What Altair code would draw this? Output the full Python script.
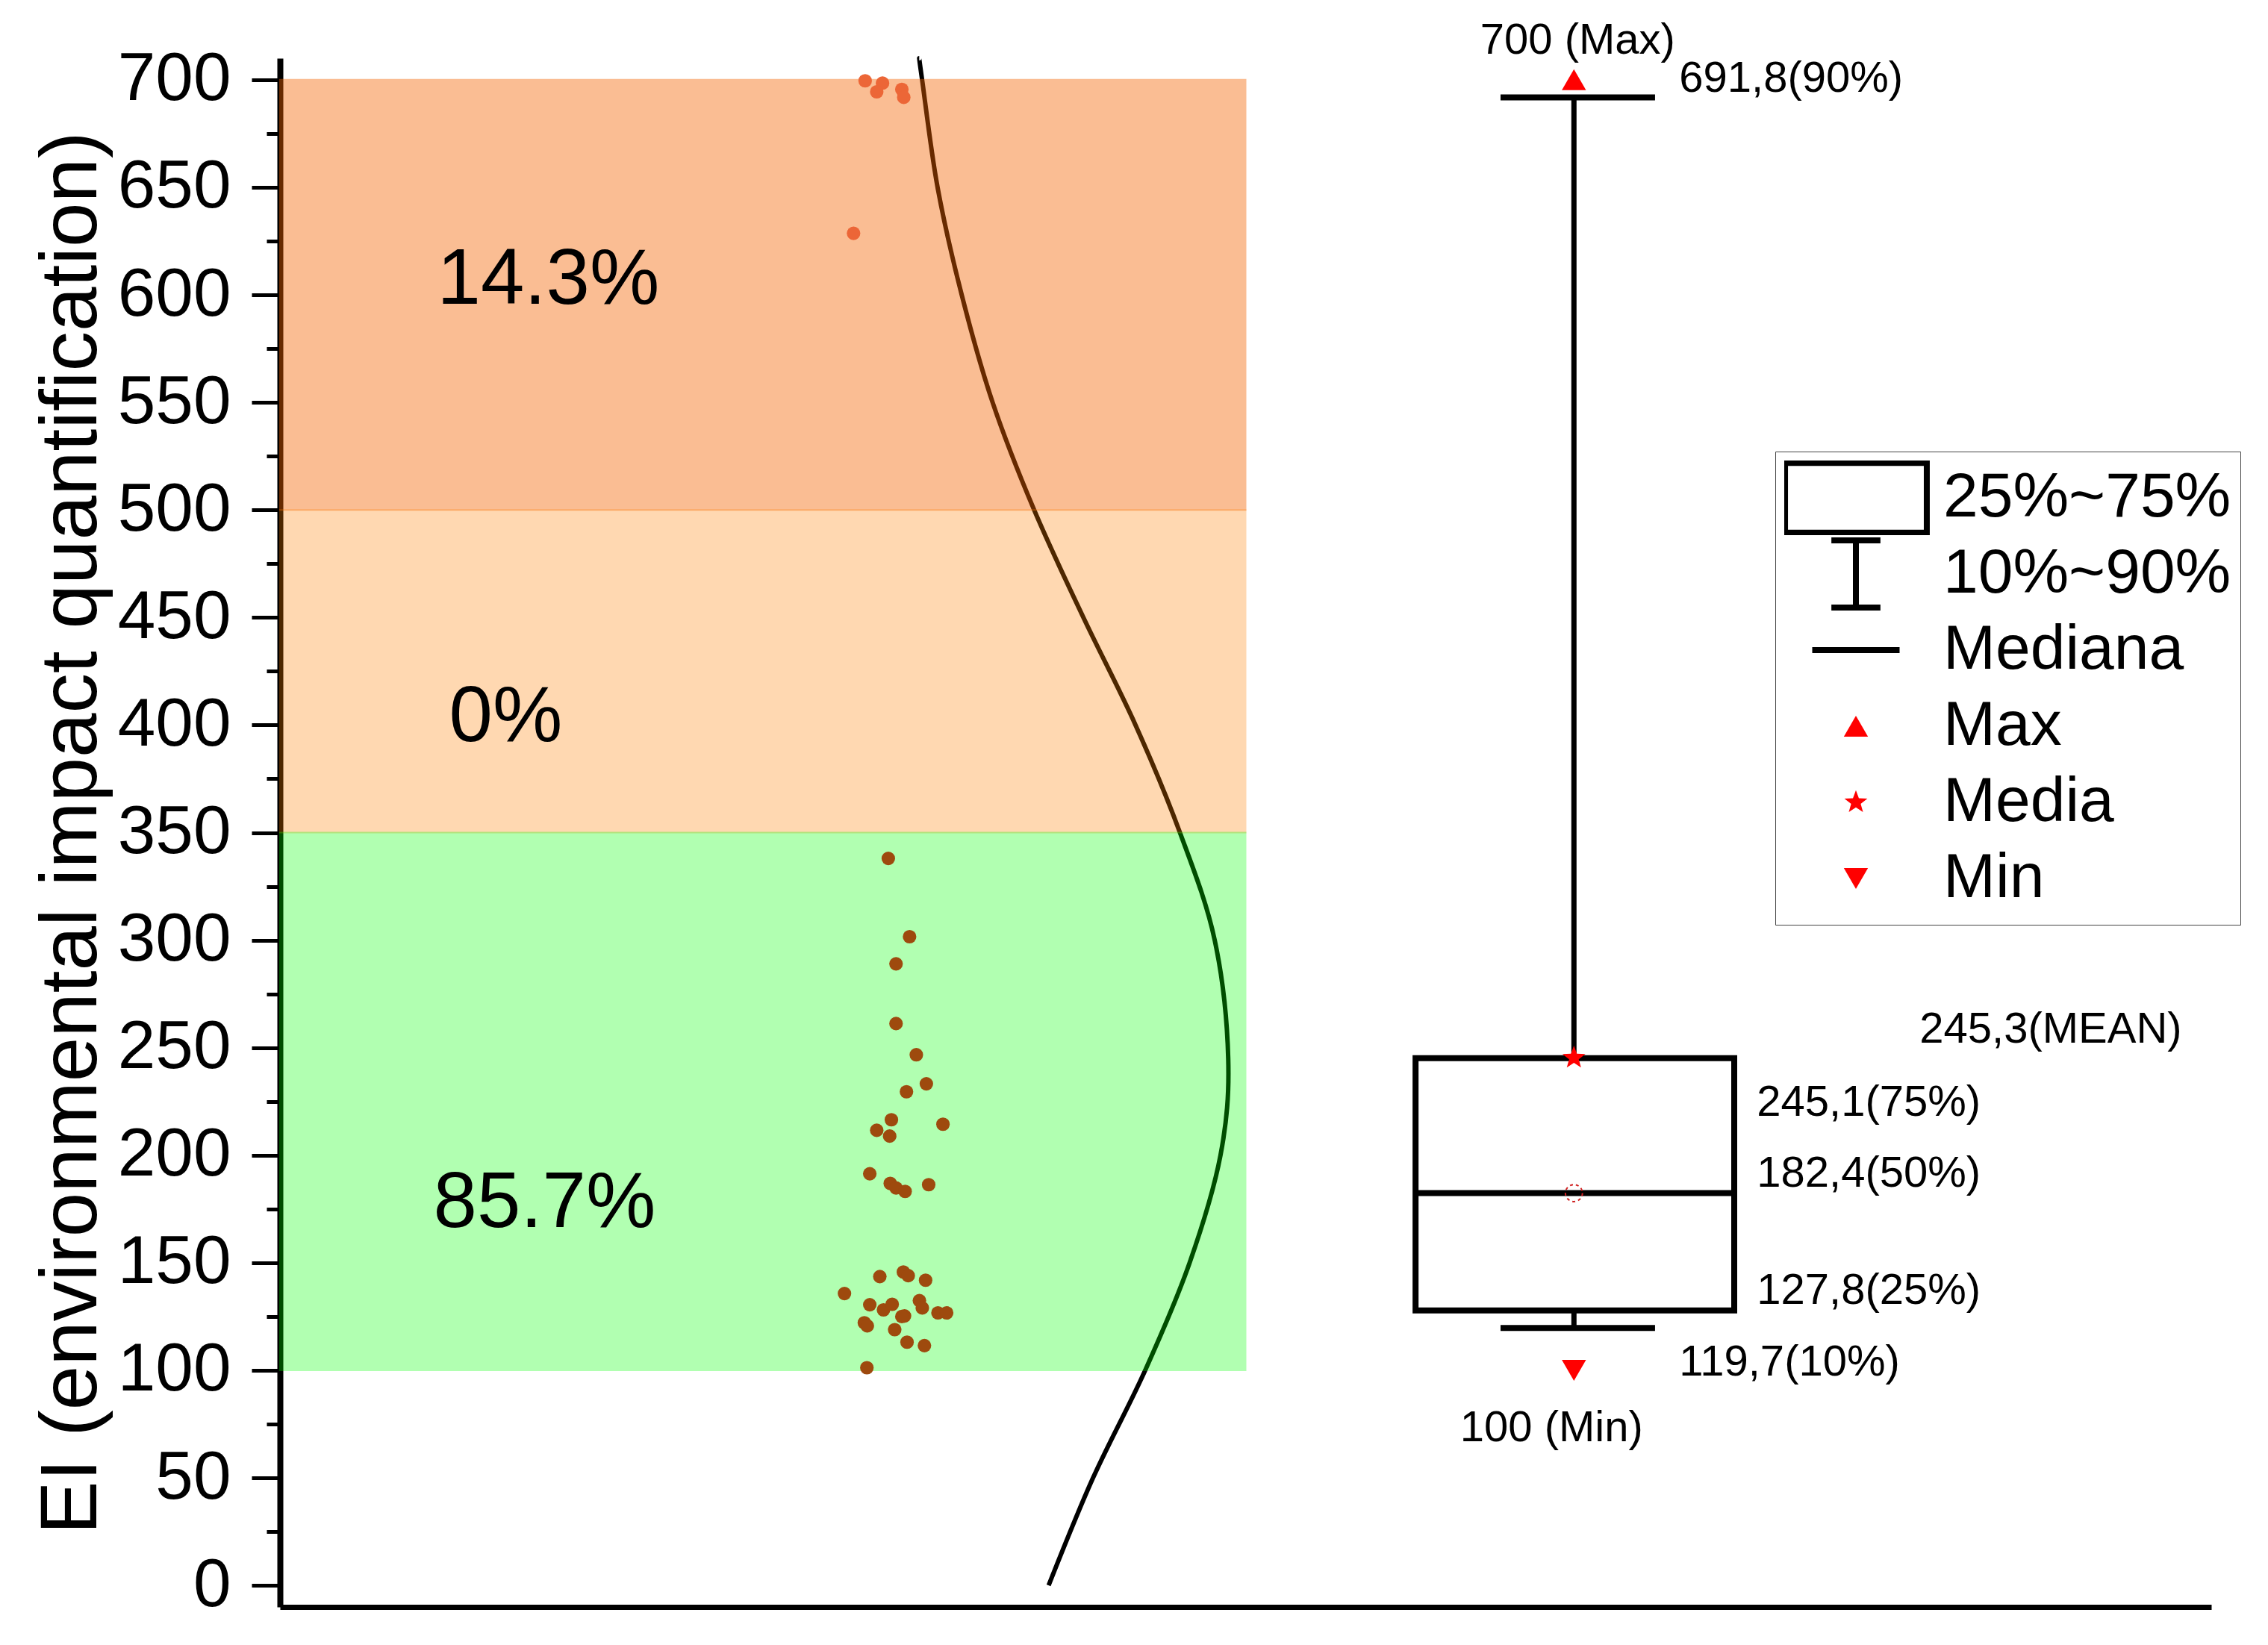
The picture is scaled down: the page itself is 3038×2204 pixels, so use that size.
import altair as alt
import pandas as pd

# ---------------- data ----------------
# individual observations: value and horizontal jitter position
hi_values = [699.5, 698.4, 694.4, 695.5, 691.8, 628.6]
hi_jitter = [30.3, 31.2, 30.9, 32.2, 32.3, 29.7]

lo_values = [338.0, 301.6, 289.0, 261.2, 246.7, 233.2, 229.5, 216.5, 211.6, 208.9,
             214.4, 191.4, 186.9, 184.8, 183.2, 186.3,
             143.6, 145.7, 144.0, 141.9, 135.7, 130.5, 128.1, 130.7, 132.4, 129.0,
             125.3, 122.1, 120.7, 118.9, 126.7, 126.7, 113.1, 111.5, 101.2, 125.0]
lo_jitter = [31.5, 32.6, 31.9, 31.9, 32.95, 33.47, 32.44, 31.66, 30.9, 31.57,
             34.33, 30.54, 31.6, 31.9, 32.37, 33.59,
             31.06, 32.28, 32.53, 33.43, 29.23, 30.54, 31.25, 31.70, 33.11, 33.26,
             32.34, 30.26, 30.41, 31.83, 34.07, 34.52, 32.47, 33.37, 30.39, 32.2]

# distribution curve (EI value -> horizontal position)
curve_values = [0, 50, 100, 150, 200, 245, 300, 350, 400, 450, 500, 550, 600, 650, 700, 710]
curve_density = [39.8, 42.1, 44.8, 47.1, 48.7, 49.1, 48.4, 46.6, 44.3, 41.6,
                 39.05, 36.9, 35.3, 34.05, 33.25, 33.1]

# classification bands
band_lo = [500, 350, 100]
band_hi = [700, 500, 350]
band_labels = ["14.3%", "0%", "85.7%"]

# box-plot statistics
stat_names = ["min", "q10", "q25", "q50", "q75", "mean", "q90", "max"]
stat_values = [100, 119.7, 127.8, 182.4, 245.1, 245.3, 691.8, 700]

annot_texts = ["700 (Max)", "691,8(90%)", "245,3(MEAN)", "245,1(75%)",
               "182,4(50%)", "127,8(25%)", "119,7(10%)", "100 (Min)"]
annot_values = [700, 691.8, 245.3, 245.1, 182.4, 127.8, 119.7, 100]

legend_items = ["25%~75%", "10%~90%", "Mediana", "Max", "Media", "Min"]

# ---------------- styles ----------------
FONT = "Liberation Sans"
BAND_COLORS = ["#f56400", "#ff8000", "#00ff00"]
BAND_OPACITY = [0.42, 0.30, 0.30]
BAND_LABEL_DX = [36, -21, 31]
BAND_LABEL_DY = [-20, 62, 136]
BAND_X0, BAND_X1, BAND_LABEL_X = 0, 50, 12.5

BOX_C, BOX_L, BOX_R = 67.0, 58.8, 75.3
CAP_L, CAP_R = 63.2, 71.2

ANNOT_ALIGN = ["center", "left", "left", "left", "left", "left", "left", "center"]
ANNOT_DX = [5, 141, 463, 245, 245, 245, 141, -30]
ANNOT_DY = [-52, -24, -37, 60, -26, -26, 47, 78]

SHAPES = [
    "M-2.11,-1.04H2.11V1.04H-2.11Z",
    "M-0.73,-1H0.73M0,-1V1M-0.73,1H0.73",
    "M-1.3,0H1.3",
    "M0,-0.31L0.36,0.31L-0.36,0.31Z",
    "M0,-0.36L0.0882,-0.1214L0.3424,-0.1112L0.1427,0.0464L0.2116,0.2912L0,0.15"
    "L-0.2116,0.2912L-0.1427,0.0464L-0.3424,-0.1112L-0.0882,-0.1214Z",
    "M0,0.31L0.36,-0.31L-0.36,-0.31Z",
]
FILLS = ["transparent", "transparent", "transparent", "#ff0000", "#ff0000", "#ff0000"]
STROKES = ["black", "black", "black", "transparent", "transparent", "transparent"]

X_SCALE = alt.Scale(domain=[0, 100], nice=False, zero=False)
Y_SCALE = alt.Scale(domain=[-10, 710], nice=False, zero=False)

x_axis = alt.Axis(title=None, labels=False, ticks=False, grid=False,
                  domainWidth=7, domainColor="black")
y_axis = alt.Axis(
    title="EI (environmental impact quantification)",
    values=list(range(0, 701, 25)),
    labelExpr="datum.value % 50 === 0 ? datum.label : ''",
    tickSize={"condition": {"test": "datum.value % 50 === 0", "value": 38}, "value": 18},
    tickWidth=5, tickColor="black", domainWidth=8, domainColor="black", grid=False,
    labelFont=FONT, labelFontSize=91, labelColor="black", labelPadding=28,
    titleFont=FONT, titleFontSize=107, titleFontWeight="normal", titleColor="black",
    titlePadding=25,
)

# ---------------- layers ----------------
curve_df = pd.DataFrame({"v": curve_values, "d": curve_density,
                         "i": list(range(len(curve_values)))})
curve = alt.Chart(curve_df).mark_line(color="black", strokeWidth=6,
                                      interpolate="cardinal").encode(
    x=alt.X("d:Q", scale=X_SCALE, axis=x_axis),
    y=alt.Y("v:Q", scale=Y_SCALE, axis=y_axis),
    order=alt.Order("i:Q"),
)

layers = [curve]

for i in range(len(band_lo)):
    bdf = pd.DataFrame({"lo": [band_lo[i]], "hi": [band_hi[i]], "label": [band_labels[i]]})
    layers.append(
        alt.Chart(bdf).mark_rect(color=BAND_COLORS[i], opacity=BAND_OPACITY[i],
                                 stroke=BAND_COLORS[i], strokeWidth=2).encode(
            x=alt.datum(BAND_X0), x2=alt.datum(BAND_X1), y="lo:Q", y2="hi:Q"))

hi_df = pd.DataFrame({"v": hi_values, "j": hi_jitter})
lo_df = pd.DataFrame({"v": lo_values, "j": lo_jitter})
layers.append(alt.Chart(hi_df).mark_circle(size=330, opacity=1, color="#ec6637").encode(
    x="j:Q", y="v:Q"))
layers.append(alt.Chart(lo_df).mark_circle(size=330, opacity=1, color="#9e4a0e").encode(
    x="j:Q", y="v:Q"))

for i in range(len(band_lo)):
    bdf = pd.DataFrame({"lo": [band_lo[i]], "hi": [band_hi[i]], "label": [band_labels[i]]})
    layers.append(
        alt.Chart(bdf).transform_calculate(mid="(datum.lo + datum.hi) / 2").mark_text(
            font=FONT, fontSize=105, color="black", align="center", baseline="middle",
            dx=BAND_LABEL_DX[i], dy=BAND_LABEL_DY[i]).encode(
            x=alt.datum(BAND_LABEL_X), y="mid:Q", text="label:N"))

stats = pd.DataFrame([dict(zip(stat_names, stat_values))])
base = alt.Chart(stats)
layers += [
    base.mark_rule(color="black", strokeWidth=7).encode(
        x=alt.datum(BOX_C), y="q75:Q", y2="q90:Q"),
    base.mark_rule(color="black", strokeWidth=7).encode(
        x=alt.datum(BOX_C), y="q10:Q", y2="q25:Q"),
    base.mark_rule(color="black", strokeWidth=8).encode(
        x=alt.datum(CAP_L), x2=alt.datum(CAP_R), y="q90:Q"),
    base.mark_rule(color="black", strokeWidth=8).encode(
        x=alt.datum(CAP_L), x2=alt.datum(CAP_R), y="q10:Q"),
    base.mark_rect(fillOpacity=0, stroke="black", strokeWidth=8).encode(
        x=alt.datum(BOX_L), x2=alt.datum(BOX_R), y="q25:Q", y2="q75:Q"),
    base.mark_rule(color="black", strokeWidth=8).encode(
        x=alt.datum(BOX_L), x2=alt.datum(BOX_R), y="q50:Q"),
    base.mark_point(shape="circle", size=520, stroke="#d02020", strokeWidth=2,
                    strokeDash=[4, 4], filled=False, opacity=1).encode(
        x=alt.datum(BOX_C), y="q50:Q"),
]

for i in range(len(annot_texts)):
    adf = pd.DataFrame({"v": [annot_values[i]], "t": [annot_texts[i]]})
    layers.append(alt.Chart(adf).mark_text(
        font=FONT, fontSize=58, color="black", align=ANNOT_ALIGN[i], baseline="middle",
        dx=ANNOT_DX[i], dy=ANNOT_DY[i]).encode(
        x=alt.datum(BOX_C), y="v:Q", text="t:N"))

smap = dict(zip(stat_names, stat_values))
marker_df = pd.DataFrame({"cat": legend_items,
                          "v": [None, None, None, smap["max"], smap["mean"], smap["min"]]})
LEG = alt.Legend(title=None, orient="none", legendX=2003, legendY=527, padding=12,
                 strokeColor="#444444", labelFont=FONT, labelFontSize=84,
                 labelColor="black", symbolSize=8100, symbolStrokeWidth=8,
                 symbolOffset=47, labelOffset=68, rowPadding=2, clipHeight=100,
                 labelLimit=2000)
markers = alt.Chart(marker_df).mark_point(size=8100, strokeWidth=8, opacity=1).encode(
    x=alt.datum(BOX_C),
    y=alt.Y("v:Q"),
    shape=alt.Shape("cat:N", scale=alt.Scale(domain=legend_items, range=SHAPES), legend=LEG),
    fill=alt.Fill("cat:N", scale=alt.Scale(domain=legend_items, range=FILLS), legend=LEG),
    stroke=alt.Stroke("cat:N", scale=alt.Scale(domain=legend_items, range=STROKES), legend=LEG),
)
layers.append(markers)

chart = alt.layer(*layers).properties(
    width=2587, height=2075,
    padding={"left": 33, "top": 17, "right": 5, "bottom": 5},
    background="white",
).configure_view(stroke=None)

chart.save("out.html", embed_options={"renderer": "svg", "actions": False})
